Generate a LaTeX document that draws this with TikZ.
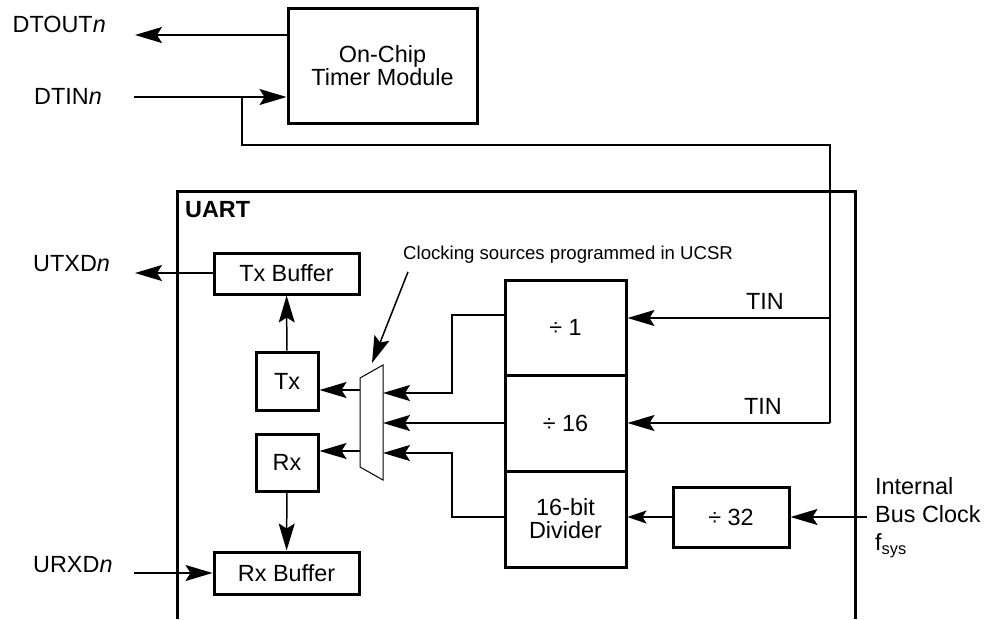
\documentclass[tikz,border=0pt]{standalone}
\usepackage{fontspec}
\setmainfont{Liberation Sans}
\usepackage{tikz}
\usetikzlibrary{arrows.meta,positioning}

\begin{document}
\begin{tikzpicture}[x=1pt,y=-1pt,font=\fontsize{23.4}{28}\selectfont,
  blk/.style={draw,line width=3pt,inner sep=0pt,align=center},
  wire/.style={line width=1.5pt},
  sig/.style={wire,-{Stealth[length=27pt,width=16pt,inset=5pt]}},
  smallsig/.style={wire,-{Stealth[length=19pt,width=13pt,inset=4pt]}},
  lbl/.style={inner sep=0pt}]
\useasboundingbox (0,0) rectangle (985,619);
\node[blk,minimum width=189pt,minimum height=115pt] (timer) at (382.5,65.5) {On-Chip\\[-5pt]Timer Module};
\node[lbl,anchor=east] (dtout) at (106,24) {DTOUT\textit{n}};
\node[lbl,anchor=east] (dtin) at (102,96) {DTIN\textit{n}};
\coordinate (dtinend) at (135,35);
\coordinate (dtinsrc) at (134,97);
\draw[sig] (timer.west |- dtinend) -- (dtinend);
\draw[sig] (dtinsrc) -- (timer.west |- dtinsrc);
\draw[line width=3pt] (177,619) -- (177,191) -- (855,191) -- (855,619);
\node[lbl,anchor=west,font=\fontsize{23.4}{28}\selectfont\bfseries] (uart) at (185,210) {UART};
\node[blk,minimum width=145pt,minimum height=41pt] (txbuf) at (286.5,273.5) {Tx Buffer};
\node[blk,minimum width=62pt,minimum height=58pt] (tx) at (287,381) {Tx};
\node[blk,minimum width=62pt,minimum height=57pt] (rx) at (287,462.5) {Rx};
\node[blk,minimum width=145pt,minimum height=42pt] (rxbuf) at (286.5,573) {Rx Buffer};
\node[lbl,anchor=west] (utxd) at (33,264) {UTXD\textit{n}};
\node[lbl,anchor=west] (urxd) at (33,565) {URXD\textit{n}};
\coordinate (utxdend) at (135,273);
\coordinate (urxdsrc) at (134,573);
\draw[sig] (txbuf.west |- utxdend) -- (utxdend);
\draw[sig] (urxdsrc) -- (rxbuf.west |- urxdsrc);
\draw[sig] (tx) -- (txbuf);
\draw[sig] (rx) -- (rxbuf);
\draw[line width=1pt] (360,378) -- (383,365) -- (383,480) -- (360,467) -- cycle;
\coordinate (muxtx) at (360,390);
\coordinate (muxrx) at (360,451);
\coordinate (muxa) at (383,393);
\coordinate (muxb) at (383,423);
\coordinate (muxc) at (383,453);
\coordinate (muxtop) at (372,363);
\draw[sig] (muxtx) -- (tx.east |- muxtx);
\draw[sig] (muxrx) -- (rx.east |- muxrx);
\node[blk,minimum width=121pt,minimum height=95pt] (div1) at (565.5,327.5) {÷ 1};
\node[blk,minimum width=121pt,minimum height=96pt] (div16) at (565.5,423) {÷ 16};
\node[blk,minimum width=121pt,minimum height=96pt] (divider) at (565.5,519) {16-bit\\[-5pt]Divider};
\node[blk,minimum width=116pt,minimum height=60pt] (div32) at (731,517) {÷ 32};
\draw[sig] (div1.west |- 0,315) -- (452,315) -- (452,393) -- (muxa);
\draw[sig] (div16.west |- muxb) -- (muxb);
\draw[sig] (divider.west |- 0,517) -- (452,517) -- (452,453) -- (muxc);
\node[lbl,anchor=west,font=\fontsize{18.6}{22}\selectfont] (clk) at (403,255) {Clocking sources programmed in UCSR};
\draw[sig] ([xshift=5pt,yshift=-8pt]clk.south west) -- (muxtop);
\coordinate (tinup) at (830,318);
\coordinate (tindown) at (830,423);
\draw[wire] (dtinsrc -| 242,0) -- (242,145) -- (830,145) -- (tindown);
\draw[sig] (tindown) -- (div16.east |- tindown);
\draw[sig] (tinup) -- (div1.east |- tinup);
\node[lbl,above=8pt of tinup,xshift=-65pt] (tin1) {TIN};
\node[lbl,above=8pt of tindown,xshift=-67pt] (tin2) {TIN};
\node[lbl,anchor=west,align=left] (busclk) at (875,518) {Internal\\Bus Clock\\f\textsubscript{sys}};
\coordinate (busclksrc) at (867,517);
\draw[sig] (busclksrc) -- (div32.east);
\draw[smallsig] (div32.west) -- (divider.east |- div32.west);
\end{tikzpicture}
\end{document}
